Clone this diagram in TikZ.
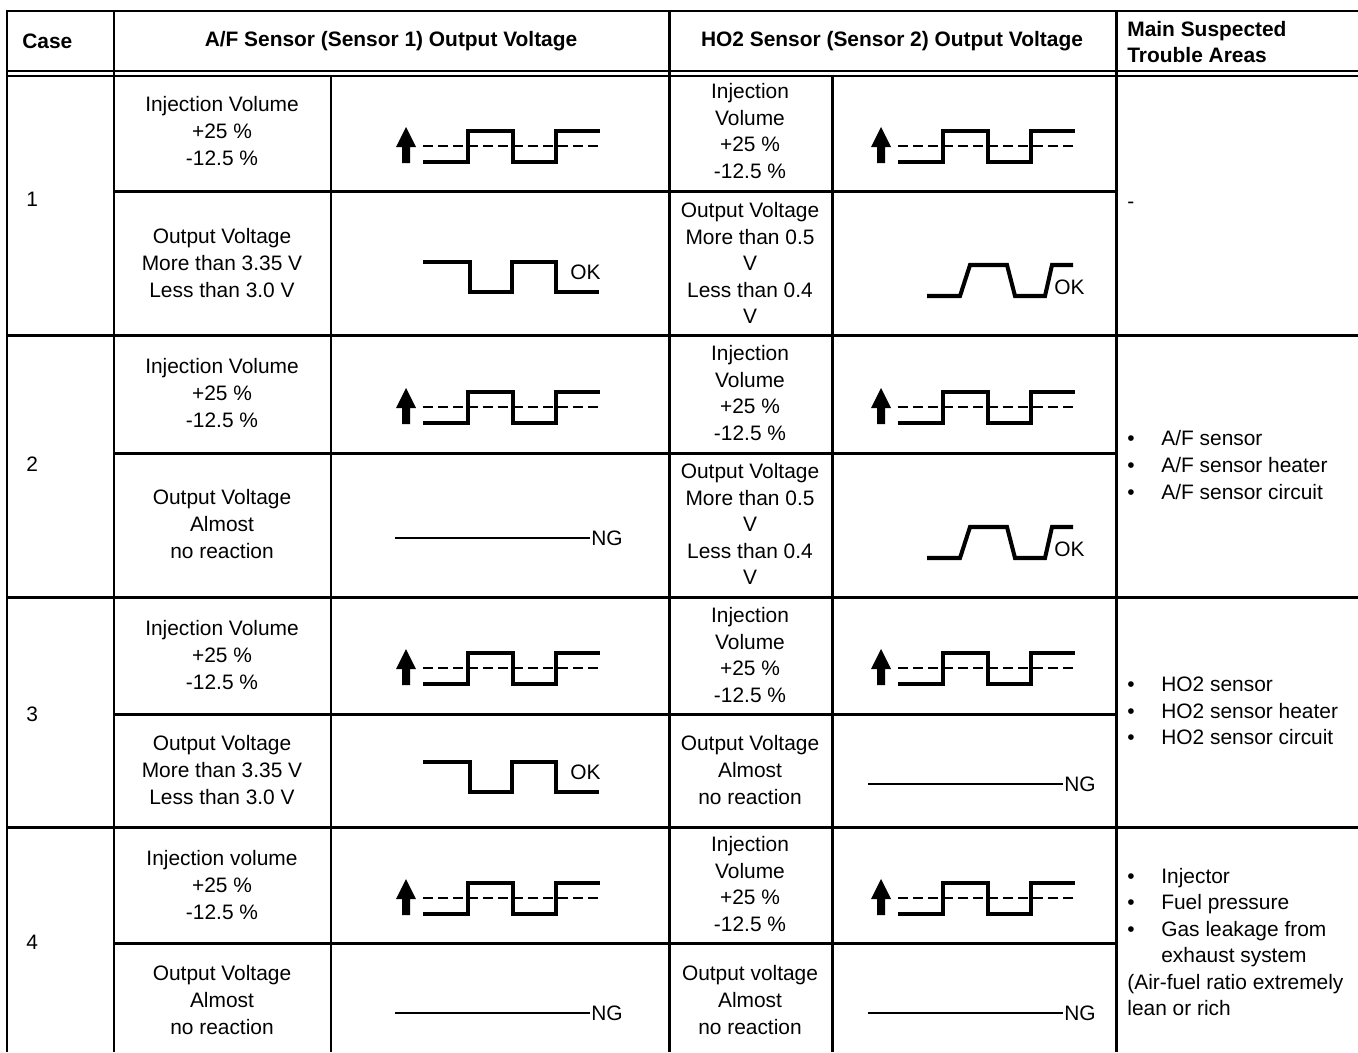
\documentclass[tikz,border=0pt]{standalone}
\usepackage{fontspec}
\setmainfont{Liberation Sans}
\usepackage{tikz}

\begin{document}
\begin{tikzpicture}[x=0.02cm, y=-0.02cm,
	grid/.style={line width=1.7pt},
	thin rule/.style={line width=1.2pt},
	txt/.style={align=center, inner sep=0pt, font=\fontsize{11.9}{15.1}\selectfont},
	head/.style={inner sep=0pt, font=\fontsize{11.9}{15.1}\selectfont\bfseries},
	lbl/.style={inner sep=0pt, font=\fontsize{11.9}{15.1}\selectfont},
	list/.style={align=left, inner sep=0pt, anchor=west, font=\fontsize{11.9}{15.1}\selectfont},
	wave/.style={line width=2.3pt},
	dashline/.style={line width=1.4pt, dash pattern=on 0.2cm off 0.1cm},
	ngline/.style={line width=1.3pt},
	injwave/.pic={
		\fill (-17,-19) -- (-27,1) -- (-21,1) -- (-21,17) -- (-13,17) -- (-13,1) -- (-7,1) -- cycle;
		\draw[dashline] (0,0) -- (177,0);
		\draw[wave] (0,16) -- (45,16) -- (45,-15) -- (90,-15) -- (90,16) -- (133,16) -- (133,-15) -- (177,-15);
	},
	okwaveaf/.pic={
		\draw[wave] (0,0) -- (47,0) -- (47,30) -- (89,30) -- (89,0) -- (133,0) -- (133,30) -- (176,30);
		\node[lbl, anchor=west] (-ok) at (147,10) {OK};
	},
	okwaveho/.pic={
		\draw[wave] (0,0) -- (33,0) -- (43,-31) -- (80,-31) -- (88,0) -- (118,0) -- (125,-31) -- (146,-31);
		\node[lbl, anchor=west] (-ok) at (127,-9) {OK};
	},
	ngwave/.pic={
		\draw[ngline] (0,0) -- (195,0);
		\node[lbl, anchor=west] (-ng) at (196,0) {NG};
	}]
	\useasboundingbox (0,0) rectangle (1358,1052);

	% table rules
	\draw[grid] (7,1052) -- (7,11) -- (1358,11);
	\draw[thin rule] (7,71) -- (1358,71);
	\draw[thin rule] (7,76) -- (1358,76);
	\draw[grid] (114,11) -- (114,1052);
	\draw[grid] (669,11) -- (669,1052);
	\draw[grid] (1116,11) -- (1116,1052);
	\draw[grid] (331,76) -- (331,1052);
	\draw[grid] (832,76) -- (832,1052);
	\draw[grid] (7,335) -- (1358,335);
	\draw[grid] (7,597) -- (1358,597);
	\draw[grid] (7,827) -- (1358,827);
	\draw[grid] (114,191) -- (1116,191);
	\draw[grid] (114,453) -- (1116,453);
	\draw[grid] (114,714) -- (1116,714);
	\draw[grid] (114,943) -- (1116,943);

	% header
	\node[head, anchor=west] (hcase) at (22,41) {Case};
	\node[head] (haf) at (391,41) {A/F Sensor (Sensor 1) Output Voltage};
	\node[head] (hho) at (892,41) {HO2 Sensor (Sensor 2) Output Voltage};
	\node[head, align=left, anchor=west] (harea) at (1127,42) {Main Suspected\\Trouble Areas};

	% case 1
	\node[lbl, anchor=west] (case1) at (26,199) {1};
	\node[txt] (afinj1) at (222,131) {Injection Volume\\+25 \%\\-12.5 \%};
	\node[txt] (hoinj1) at (750,131) {Injection\\Volume\\+25 \%\\-12.5 \%};
	\node[txt] (afout1) at (222,263) {Output Voltage\\More than 3.35 V\\Less than 3.0 V};
	\node[txt] (hoout1) at (750,263) {Output Voltage\\More than 0.5\\V\\Less than 0.4\\V};
	\pic (afwave1) at (423,146) {injwave};
	\pic (howave1) at (898,146) {injwave};
	\pic (afok1) at (423,262) {okwaveaf};
	\pic (hook1) at (927,296) {okwaveho};
	\node[lbl, anchor=west] (area1) at (1127,205) {-};

	% case 2
	\node[lbl, anchor=west] (case2) at (26,464) {2};
	\node[txt] (afinj2) at (222,393) {Injection Volume\\+25 \%\\-12.5 \%};
	\node[txt] (hoinj2) at (750,393) {Injection\\Volume\\+25 \%\\-12.5 \%};
	\node[txt] (afout2) at (222,524) {Output Voltage\\Almost\\no reaction};
	\node[txt] (hoout2) at (750,524) {Output Voltage\\More than 0.5\\V\\Less than 0.4\\V};
	\pic (afwave2) at (423,407) {injwave};
	\pic (howave2) at (898,407) {injwave};
	\pic (afng2) at (395,538) {ngwave};
	\pic (hook2) at (927,558) {okwaveho};
	\node[list] (area2) at (1127,465) {\makebox[0.68cm][l]{\textbullet}A/F sensor\\\makebox[0.68cm][l]{\textbullet}A/F sensor heater\\\makebox[0.68cm][l]{\textbullet}A/F sensor circuit};

	% case 3
	\node[lbl, anchor=west] (case3) at (26,714) {3};
	\node[txt] (afinj3) at (222,655) {Injection Volume\\+25 \%\\-12.5 \%};
	\node[txt] (hoinj3) at (750,655) {Injection\\Volume\\+25 \%\\-12.5 \%};
	\node[txt] (afout3) at (222,770) {Output Voltage\\More than 3.35 V\\Less than 3.0 V};
	\node[txt] (hoout3) at (750,770) {Output Voltage\\Almost\\no reaction};
	\pic (afwave3) at (423,668) {injwave};
	\pic (howave3) at (898,668) {injwave};
	\pic (afok3) at (423,762) {okwaveaf};
	\pic (hong3) at (868,784) {ngwave};
	\node[list] (area3) at (1127,711) {\makebox[0.68cm][l]{\textbullet}HO2 sensor\\\makebox[0.68cm][l]{\textbullet}HO2 sensor heater\\\makebox[0.68cm][l]{\textbullet}HO2 sensor circuit};

	% case 4
	\node[lbl, anchor=west] (case4) at (26,942) {4};
	\node[txt] (afinj4) at (222,885) {Injection volume\\+25 \%\\-12.5 \%};
	\node[txt] (hoinj4) at (750,884) {Injection\\Volume\\+25 \%\\-12.5 \%};
	\node[txt] (afout4) at (222,1000) {Output Voltage\\Almost\\no reaction};
	\node[txt] (hoout4) at (750,1000) {Output voltage\\Almost\\no reaction};
	\pic (afwave4) at (423,898) {injwave};
	\pic (howave4) at (898,898) {injwave};
	\pic (afng4) at (395,1013) {ngwave};
	\pic (hong4) at (868,1013) {ngwave};
	\node[list] (area4) at (1127,942) {\makebox[0.68cm][l]{\textbullet}Injector\\\makebox[0.68cm][l]{\textbullet}Fuel pressure\\\makebox[0.68cm][l]{\textbullet}Gas leakage from\\\hspace*{0.68cm}exhaust system\\(Air-fuel ratio extremely\\lean or rich};
\end{tikzpicture}
\end{document}
